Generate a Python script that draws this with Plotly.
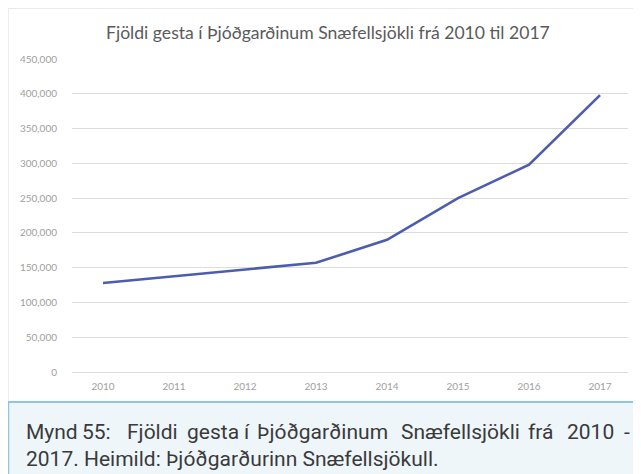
import plotly.graph_objects as go

# ---- data ----
years = [2010, 2011, 2012, 2013, 2014, 2015, 2016, 2017]
visitors = [128000, 138000, 147000, 157000, 190000, 250000, 298000, 398000]
y_ticks = [0, 50000, 100000, 150000, 200000, 250000, 300000, 350000, 400000, 450000]
chart_title = "Fjöldi gesta í Þjóðgarðinum Snæfellsjökli frá 2010 til 2017"
caption_line1_words = ["Mynd", "55:", "Fjöldi", "gesta", "í", "Þjóðgarðinum",
                       "Snæfellsjökli", "frá", "2010", "-"]
caption_line2 = "2017. Heimild: Þjóðgarðurinn Snæfellsjökull."

# ---- layout geometry (pixels, figure coordinates; page body adds 8px offset) ----
OFF = 8
W, H = 641 - OFF, 474 - OFF
PL, PR, PT, PB = 72 - OFF, 628 - OFF, 59 - OFF, 372 - OFF
pw, ph = PR - PL, PB - PT


def px(x):  # screen x -> paper
    return (x - OFF - PL) / pw


def py(y):  # screen y -> paper
    return (PB - (y - OFF)) / ph


fig = go.Figure()
fig.add_trace(go.Scatter(
    x=years, y=visitors, mode="lines",
    line=dict(color="#4c5cae", width=2.6),
    hoverinfo="skip", showlegend=False,
))

shapes = [
    # chart frame (top + left)
    dict(type="line", xref="paper", yref="paper", x0=px(8), x1=px(660), y0=py(8.5), y1=py(8.5),
         line=dict(color="#e9e9e9", width=1), layer="below"),
    dict(type="line", xref="paper", yref="paper", x0=px(8.5), x1=px(8.5), y0=py(8), y1=py(402),
         line=dict(color="#ededed", width=1), layer="below"),
    # caption box
    dict(type="rect", xref="paper", yref="paper", x0=px(8), x1=px(660), y0=py(402), y1=py(500),
         line=dict(width=0), fillcolor="#eef6fa", layer="below"),
    dict(type="line", xref="paper", yref="paper", x0=px(8), x1=px(660), y0=py(402), y1=py(402),
         line=dict(color="#8cc6e3", width=2)),
    dict(type="line", xref="paper", yref="paper", x0=px(8.5), x1=px(8.5), y0=py(402), y1=py(500),
         line=dict(color="#8cc6e3", width=1.5)),
]

word_x = [24, 80, 125, 185, 242, 255, 399, 526, 565, 622]
annotations = []
for w, x in zip(caption_line1_words, word_x):
    annotations.append(dict(
        text=w, xref="paper", yref="paper", x=px(x), y=py(432),
        xanchor="left", yanchor="middle", showarrow=False,
        font=dict(family="Roboto", size=21, color="#3a3a3a"),
    ))
annotations.append(dict(
    text=caption_line2, xref="paper", yref="paper", x=px(24), y=py(459),
    xanchor="left", yanchor="middle", showarrow=False,
    font=dict(family="Roboto", size=21, color="#3a3a3a"),
))
annotations.append(dict(
    text=chart_title, xref="paper", yref="paper", x=px(328), y=py(32),
    xanchor="center", yanchor="middle", showarrow=False,
    font=dict(family="Lato", size=17.6, color="#5a5a5a"),
))

fig.update_layout(
    width=W, height=H,
    margin=dict(l=PL, r=W - PR, t=PT, b=H - PB),
    paper_bgcolor="white", plot_bgcolor="white",
    shapes=shapes, annotations=annotations,
    xaxis=dict(
        range=[2009.563, 2017.394], tickmode="array", tickvals=years,
        ticktext=[str(y) for y in years],
        showgrid=False, zeroline=False, showline=True, linecolor="#d9d9d9", linewidth=1,
        ticks="outside", ticklen=5, tickcolor="rgba(0,0,0,0)",
        tickfont=dict(family="Lato", size=10, color="#a0a0a0"),
        fixedrange=True,
    ),
    yaxis=dict(
        range=[0, 450000], tickmode="array", tickvals=y_ticks,
        ticktext=[f"{v:,}" for v in y_ticks],
        showgrid=True, gridcolor="#dcdcdc", gridwidth=1, zeroline=False,
        ticks="outside", ticklen=12, tickcolor="rgba(0,0,0,0)",
        tickfont=dict(family="Lato", size=10, color="#a0a0a0"),
        fixedrange=True,
    ),
)

fig.write_html(
    "out.html",
    config={"displayModeBar": False},
    post_script="document.documentElement.style.overflow='hidden';document.body.style.overflow='hidden';",
)
